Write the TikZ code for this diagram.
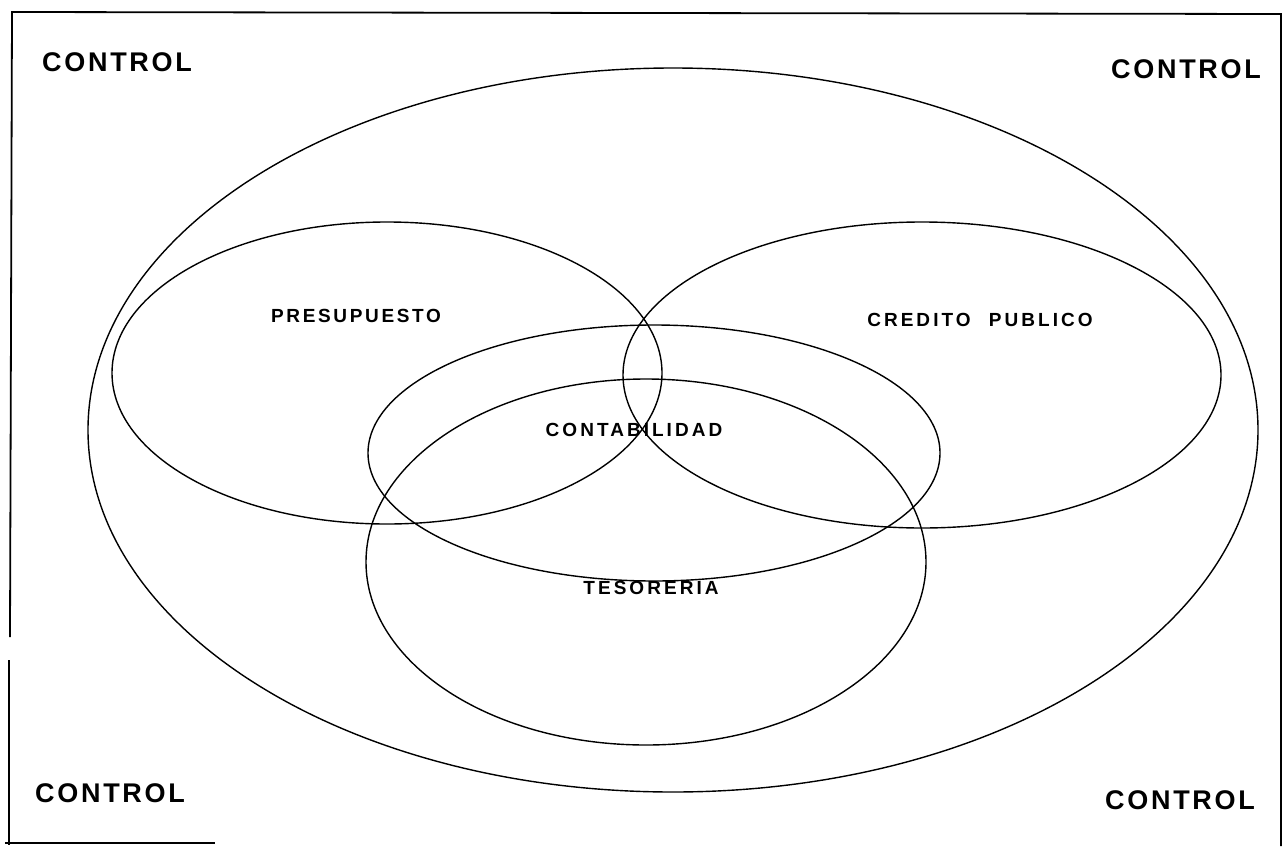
\documentclass[tikz,border=0pt]{standalone}
\usepackage{fontspec}
\setmainfont{Liberation Sans}
\newfontfamily\ctlfont{Liberation Sans}[LetterSpace=10]
\newfontfamily\lblfont{Liberation Sans}[LetterSpace=16]
\begin{document}
\begin{tikzpicture}[x=1pt,y=-1pt,
  ctl/.style={inner sep=0pt,font=\ctlfont\bfseries\fontsize{27}{27}\selectfont},
  lbl/.style={inner sep=0pt,font=\lblfont\bfseries\fontsize{19}{19}\selectfont},
  ring/.style={draw,line width=1.4pt},
  frame/.style={line width=1.8pt}]
\useasboundingbox (0,0) rectangle (1285,846);
% frame
\draw[frame] (10,637) -- (12,12) -- (1281,14) -- (1281,846);
\draw[frame] (9,660) -- (9,845);
\draw[frame] (5,843) -- (215,843);
% ellipses
\draw[ring] (673,430) ellipse [x radius=585pt, y radius=362pt];
\draw[ring] (387,373) ellipse [x radius=275pt, y radius=151pt];
\draw[ring] (922,375) ellipse [x radius=299pt, y radius=153pt];
\draw[ring] (654,453) ellipse [x radius=286pt, y radius=128pt];
\draw[ring] (646,562) ellipse [x radius=280pt, y radius=183pt];
% labels
\node[ctl] (c1) at (117,62) {CONTROL};
\node[ctl] (c2) at (1186,69) {CONTROL};
\node[ctl] (c3) at (110,793) {CONTROL};
\node[ctl] (c4) at (1180,800) {CONTROL};
\node[lbl] (pre) at (356,316) {\addfontfeature{LetterSpace=14}PRESUPUESTO};
\node[lbl] (cre) at (980,320) {CREDITO\hspace{10pt} PUBLICO};
\node[lbl] (con) at (634,430) {CONTABILIDAD};
\node[lbl] (tes) at (651,588) {TESORERIA};
\end{tikzpicture}
\end{document}
